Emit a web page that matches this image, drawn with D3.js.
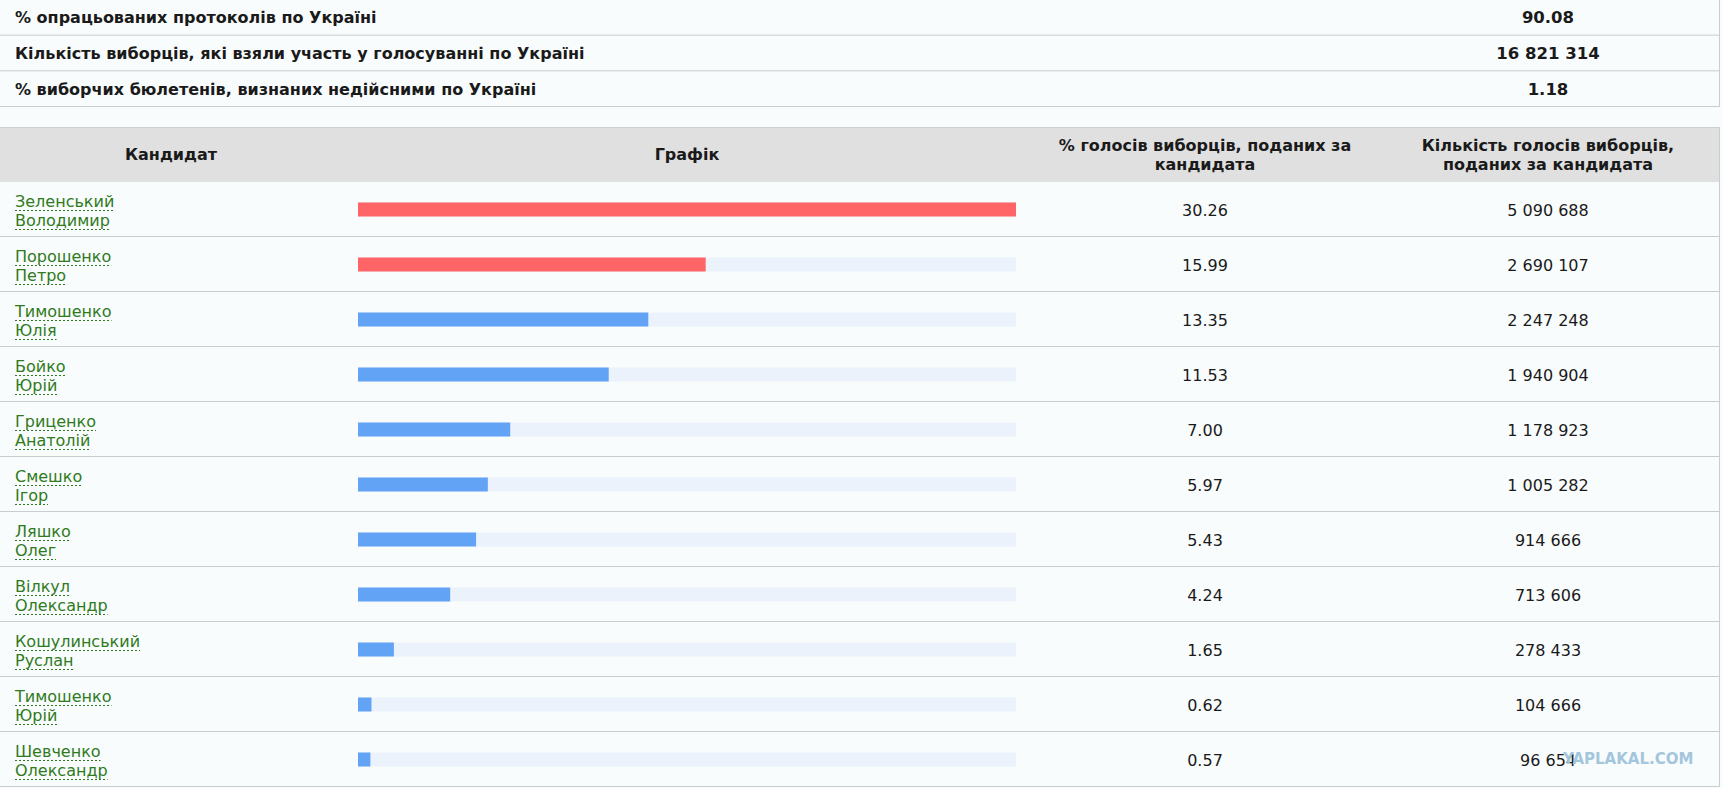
<!DOCTYPE html>
<html>
<head>
<meta charset="utf-8">
<script src="https://cdn.jsdelivr.net/npm/d3@7"></script>
<style>
  html, body { margin: 0; padding: 0; background: #f9fcfd; }
  svg { display: block; font-family: "DejaVu Sans", Verdana, sans-serif; }
</style>
</head>
<body>
<svg id="chart" width="1723" height="788"></svg>
<script>
// ---- data ----
const summaryLabels = [
  "% опрацьованих протоколів по Україні",
  "Кількість виборців, які взяли участь у голосуванні по Україні",
  "% виборчих бюлетенів, визнаних недійсними по Україні"
];
const summaryValues = ["90.08", "16 821 314", "1.18"];

const headerLabels = [
  ["Кандидат"],
  ["Графік"],
  ["% голосів виборців, поданих за", "кандидата"],
  ["Кількість голосів виборців,", "поданих за кандидата"]
];

const surnames = ["Зеленський", "Порошенко", "Тимошенко", "Бойко", "Гриценко", "Смешко", "Ляшко", "Вілкул", "Кошулинський", "Тимошенко", "Шевченко"];
const givenNames = ["Володимир", "Петро", "Юлія", "Юрій", "Анатолій", "Ігор", "Олег", "Олександр", "Руслан", "Юрій", "Олександр"];
const percents = [30.26, 15.99, 13.35, 11.53, 7.00, 5.97, 5.43, 4.24, 1.65, 0.62, 0.57];
const votes = [5090688, 2690107, 2247248, 1940904, 1178923, 1005282, 914666, 713606, 278433, 104666, 96654];
const highlighted = [true, true, false, false, false, false, false, false, false, false, false];

// ---- layout ----
const rightEdge = 1719;
const lineColor = "#c9cdd0";
const textColor = "#1a1a1a";
const nameColor = "#2f7a1c";
const colCenters = [171, 687, 1205, 1548];
const fs = 16;

const svg = d3.select("#chart");

// summary table
const ySum = d3.scaleBand().domain(d3.range(summaryLabels.length)).range([0, 107]);
const sumRows = svg.append("g").selectAll("g").data(summaryLabels).join("g")
  .attr("transform", (d, i) => `translate(0,${ySum(i)})`);
sumRows.append("line")
  .attr("x1", 0).attr("x2", rightEdge)
  .attr("y1", ySum.bandwidth() - 0.5).attr("y2", ySum.bandwidth() - 0.5)
  .attr("stroke", lineColor);
sumRows.append("text")
  .attr("x", 15).attr("y", ySum.bandwidth() / 2 + 5.5)
  .attr("font-size", fs).attr("font-weight", "bold").attr("fill", textColor)
  .text(d => d);
sumRows.append("text")
  .attr("x", colCenters[3]).attr("y", ySum.bandwidth() / 2 + 5.5)
  .attr("text-anchor", "middle")
  .attr("font-size", fs + 0.5).attr("font-weight", "bold").attr("fill", textColor)
  .text((d, i) => summaryValues[i]);
svg.append("line").attr("x1", rightEdge + 0.5).attr("x2", rightEdge + 0.5)
  .attr("y1", 0).attr("y2", 107).attr("stroke", lineColor);

// header
const headTop = 127, headBottom = 182;
svg.append("rect").attr("x", 0).attr("y", headTop).attr("width", rightEdge + 1)
  .attr("height", headBottom - headTop).attr("fill", "#e0e0e0");
svg.append("line").attr("x1", 0).attr("x2", rightEdge + 1)
  .attr("y1", headTop + 0.5).attr("y2", headTop + 0.5).attr("stroke", "#cfcfcf");
const headMid = (headTop + headBottom) / 2;
headerLabels.forEach((lines, i) => {
  const t = svg.append("text")
    .attr("x", colCenters[i]).attr("text-anchor", "middle")
    .attr("font-size", fs).attr("font-weight", "bold").attr("fill", textColor);
  const lh = 19;
  const y0 = headMid + 5.5 - (lines.length - 1) * lh / 2;
  lines.forEach((l, k) => {
    t.append("tspan").attr("x", colCenters[i]).attr("y", y0 + k * lh).text(l);
  });
});

// candidate rows
const yRow = d3.scaleBand().domain(d3.range(surnames.length)).range([headBottom, 787]);
const x = d3.scaleLinear().domain([0, d3.max(percents)]).range([358, 1016]);
const barH = 14;
const fmtVotes = v => d3.format(",")(v).replace(/,/g, " ");

const rows = svg.append("g").selectAll("g").data(surnames).join("g")
  .attr("transform", (d, i) => `translate(0,${yRow(i)})`);
const bw = yRow.bandwidth();

rows.append("line")
  .attr("x1", 0).attr("x2", rightEdge)
  .attr("y1", bw - 0.5).attr("y2", bw - 0.5)
  .attr("stroke", lineColor);

// names with dashed underline
[surnames, givenNames].forEach((arr, k) => {
  const by = 25 + k * 19;
  const txt = rows.append("text")
    .attr("x", 15).attr("y", by)
    .attr("font-size", fs).attr("fill", nameColor)
    .text((d, i) => arr[i]);
  txt.each(function () {
    const len = this.getComputedTextLength();
    d3.select(this.parentNode).append("line")
      .attr("x1", 15).attr("x2", 15 + len)
      .attr("y1", by + 3.5).attr("y2", by + 3.5)
      .attr("stroke", nameColor).attr("stroke-width", 1)
      .attr("stroke-dasharray", "2,2");
  });
});

// bars
rows.append("rect")
  .attr("x", x(0)).attr("y", bw / 2 - barH / 2)
  .attr("width", x(d3.max(percents)) - x(0)).attr("height", barH)
  .attr("fill", "#ebf2fc");
rows.append("rect")
  .attr("x", x(0)).attr("y", bw / 2 - barH / 2)
  .attr("width", (d, i) => x(percents[i]) - x(0)).attr("height", barH)
  .attr("fill", (d, i) => highlighted[i] ? "#ff6567" : "#62a3f6");

// values
rows.append("text")
  .attr("x", colCenters[2]).attr("y", bw / 2 + 6)
  .attr("text-anchor", "middle").attr("font-size", fs).attr("fill", textColor)
  .text((d, i) => percents[i].toFixed(2));

// watermark
svg.append("text")
  .attr("x", 1563).attr("y", 764)
  .attr("font-family", "'DejaVu Sans', sans-serif")
  .attr("font-weight", "bold").attr("font-size", 15)
  .attr("fill", "#a3c6dd")
  .text("YAPLAKAL.COM");

rows.append("text")
  .attr("x", colCenters[3]).attr("y", bw / 2 + 6)
  .attr("text-anchor", "middle").attr("font-size", fs).attr("fill", textColor)
  .text((d, i) => fmtVotes(votes[i]));

svg.append("line").attr("x1", rightEdge + 0.5).attr("x2", rightEdge + 0.5)
  .attr("y1", headTop).attr("y2", 787).attr("stroke", lineColor);
</script>
</body>
</html>
